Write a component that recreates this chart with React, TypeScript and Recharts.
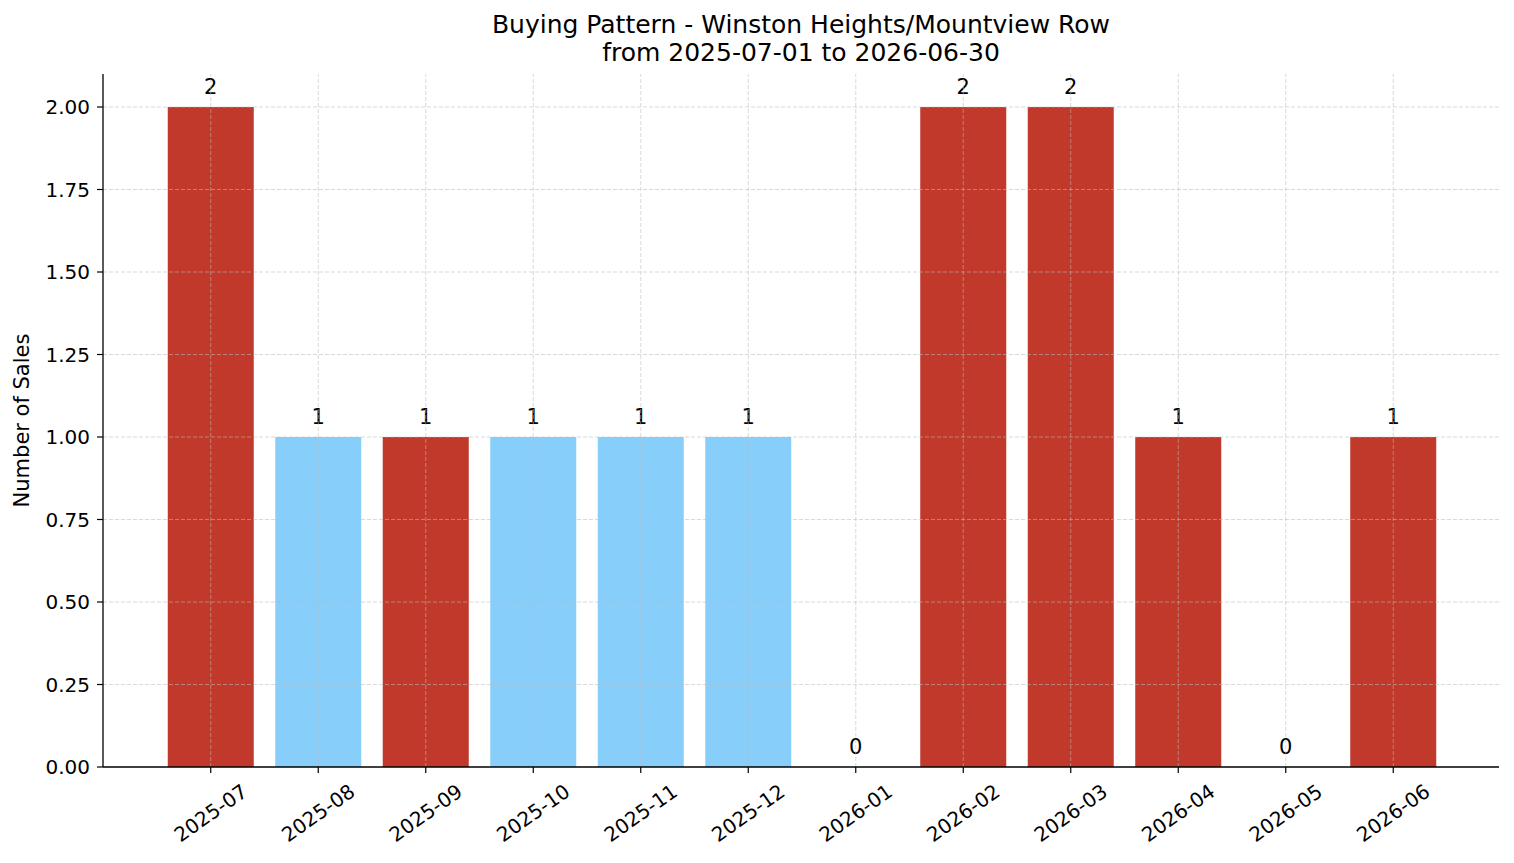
import React from "react";
import {
  BarChart,
  Bar,
  XAxis,
  YAxis,
  Cell,
  ReferenceLine,
} from "recharts";

const months = [
  "2025-07", "2025-08", "2025-09", "2025-10", "2025-11", "2025-12",
  "2026-01", "2026-02", "2026-03", "2026-04", "2026-05", "2026-06",
];
const sales = [2, 1, 1, 1, 1, 1, 0, 2, 2, 1, 0, 1];
// group of each month: "A" drawn red, "B" drawn light blue
const groups = ["A", "B", "A", "B", "B", "B", "A", "A", "A", "A", "A", "A"];
const yTicks = [0, 0.25, 0.5, 0.75, 1.0, 1.25, 1.5, 1.75, 2.0];

const titleLine1 = "Buying Pattern - Winston Heights/Mountview Row";
const titleLine2 = "from 2025-07-01 to 2026-06-30";
const yLabel = "Number of Sales";

const data = months.map((m, i) => ({ month: m, sales: sales[i], group: groups[i] }));

const FONT = "DejaVu Sans";
const RED = "#c0392b";
const BLUE = "#87cefa";
const GRID = { stroke: "#bbbbbb", strokeOpacity: 0.7, strokeDasharray: "4 2", strokeWidth: 0.8 };

const W = 1514;
const H = 863;
const PLOT_LEFT = 103;
const PLOT_RIGHT = 1499;
const PLOT_TOP = 74;
const PLOT_BOTTOM = 767;

const XTick = (props: any) => {
  const { x, payload } = props;
  const cy = PLOT_BOTTOM + 46;
  return (
    <g>
      <line x1={x} x2={x} y1={PLOT_BOTTOM} y2={PLOT_BOTTOM + 6} stroke="#000" strokeWidth={1.2} />
      <text
        x={x}
        y={cy}
        textAnchor="middle"
        dominantBaseline="central"
        transform={`rotate(-35, ${x}, ${cy})`}
        fontFamily={FONT}
        fontSize={20}
        fill="#000"
      >
        {payload.value}
      </text>
    </g>
  );
};

const YTick = (props: any) => {
  const { y, payload } = props;
  return (
    <g>
      <line x1={PLOT_LEFT - 6} x2={PLOT_LEFT} y1={y} y2={y} stroke="#000" strokeWidth={1.2} />
      <text
        x={PLOT_LEFT - 13}
        y={y}
        textAnchor="end"
        dominantBaseline="central"
        fontFamily={FONT}
        fontSize={20}
        fill="#000"
      >
        {Number(payload.value).toFixed(2)}
      </text>
    </g>
  );
};

const BarShape = (props: any) => {
  const { x, y, width, height, payload } = props;
  const fill = payload.group === "A" ? RED : BLUE;
  return (
    <g>
      {height > 0 && <rect x={x} y={y} width={width} height={height} fill={fill} />}
      <text
        x={x + width / 2}
        y={y - 13}
        textAnchor="middle"
        fontFamily={FONT}
        fontSize={21}
        fill="#000"
      >
        {payload.sales}
      </text>
    </g>
  );
};

export default function App() {
  return (
    <div style={{ position: "absolute", left: 0, top: 0, width: W, height: H, background: "#fff" }}>
      <BarChart
        width={W}
        height={H}
        data={data}
        margin={{ top: PLOT_TOP, right: W - PLOT_RIGHT, bottom: 0, left: 0 }}
        barCategoryGap="10%"
      >
        <XAxis
          dataKey="month"
          type="category"
          interval={0}
          height={H - PLOT_BOTTOM}
          padding={{ left: 54, right: 52 }}
          axisLine={{ stroke: "#000", strokeWidth: 1.3 }}
          tickLine={false}
          tick={<XTick />}
        />
        <YAxis
          type="number"
          domain={[0, 2.1]}
          ticks={yTicks}
          width={PLOT_LEFT}
          allowDataOverflow
          axisLine={{ stroke: "#000", strokeWidth: 1.3 }}
          tickLine={false}
          tick={<YTick />}
        />
        <Bar dataKey="sales" isAnimationActive={false} shape={<BarShape />}>
          {data.map((d, i) => (
            <Cell key={i} fill={d.group === "A" ? RED : BLUE} />
          ))}
        </Bar>
        {yTicks.filter((v) => v > 0).map((v) => (
          <ReferenceLine key={"h" + v} y={v} {...GRID} />
        ))}
        {months.map((m) => (
          <ReferenceLine key={"v" + m} x={m} {...GRID} />
        ))}
        <text
          x={(PLOT_LEFT + PLOT_RIGHT) / 2}
          y={33}
          textAnchor="middle"
          fontFamily={FONT}
          fontSize={25}
          fill="#000"
        >
          {titleLine1}
        </text>
        <text
          x={(PLOT_LEFT + PLOT_RIGHT) / 2}
          y={61}
          textAnchor="middle"
          fontFamily={FONT}
          fontSize={25}
          fill="#000"
        >
          {titleLine2}
        </text>
        <text
          x={29}
          y={(PLOT_TOP + PLOT_BOTTOM) / 2}
          textAnchor="middle"
          transform={`rotate(-90, 29, ${(PLOT_TOP + PLOT_BOTTOM) / 2})`}
          fontFamily={FONT}
          fontSize={21}
          fill="#000"
        >
          {yLabel}
        </text>
      </BarChart>
    </div>
  );
}
